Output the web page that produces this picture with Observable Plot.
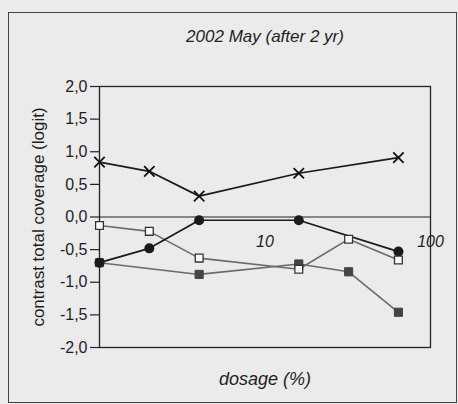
<!DOCTYPE html>
<html>
<head>
<meta charset="utf-8">
<script src="https://cdn.jsdelivr.net/npm/d3@7"></script>
<script src="https://cdn.jsdelivr.net/npm/@observablehq/plot@0.6"></script>
<style>
  html, body { margin: 0; padding: 0; background: #ebebeb; }
  #wrap { position: relative; width: 458px; height: 404px; overflow: hidden; }
  #border { position: absolute; left: 8px; top: 12px; width: 449px; height: 391px;
            border: 1px solid #444; box-sizing: border-box; pointer-events: none; }
</style>
</head>
<body>
<div id="wrap"><div id="border"></div></div>
<script>
const titleText = "2002 May (after 2 yr)";
const yLabel = "contrast total coverage (logit)";
const xLabel = "dosage (%)";

const yTicks = [-2, -1.5, -1, -0.5, 0, 0.5, 1, 1.5, 2];
const xTicks = [10, 100];

// series (dosage %, contrast logit)
const crossX = [1, 2, 4, 16, 64];
const crossY = [0.84, 0.70, 0.32, 0.67, 0.91];
const circleX = [1, 2, 4, 16, 64];
const circleY = [-0.70, -0.48, -0.05, -0.05, -0.53];
const openX = [1, 2, 4, 16, 32, 64];
const openY = [-0.13, -0.22, -0.63, -0.80, -0.34, -0.66];
const filledX = [1, 4, 16, 32, 64];
const filledY = [-0.70, -0.88, -0.72, -0.84, -1.46];

const toRows = (xs, ys) => xs.map((x, i) => ({x, y: ys[i]}));
const cross = toRows(crossX, crossY);
const circle = toRows(circleX, circleY);
const open = toRows(openX, openY);
const filled = toRows(filledX, filledY);
const xTickRows = xTicks.map(v => ({x: v, y: 0}));

const font = "'Liberation Sans', Arial, sans-serif";
const fmt = d => d.toFixed(1).replace(".", ",");

const chart = Plot.plot({
  width: 458,
  height: 404,
  marginLeft: 99,
  marginRight: 28,
  marginTop: 86,
  marginBottom: 57,
  style: {background: "transparent", fontFamily: font, color: "#1e1e1e", overflow: "visible"},
  x: {type: "log", domain: [1, 100], axis: null},
  y: {domain: [-2, 2], axis: null},
  marks: [
    Plot.ruleY([0], {stroke: "#666", strokeWidth: 1.3}),
    Plot.frame({stroke: "#222", strokeWidth: 1.3}),
    Plot.axisY({ticks: yTicks, tickFormat: fmt, tickSize: 9, tickPadding: 3, fontSize: 16, label: null, stroke: "#222", strokeWidth: 1.2}),
    Plot.text(xTickRows, {x: "x", y: "y", text: d => String(d.x), dy: 25, fontSize: 16, fontStyle: "italic", fill: "#1e1e1e"}),
    Plot.line(filled, {x: "x", y: "y", stroke: "#6a6a6a", strokeWidth: 1.6}),
    Plot.line(open, {x: "x", y: "y", stroke: "#6a6a6a", strokeWidth: 1.6}),
    Plot.line(circle, {x: "x", y: "y", stroke: "#1a1a1a", strokeWidth: 1.7}),
    Plot.line(cross, {x: "x", y: "y", stroke: "#1a1a1a", strokeWidth: 1.7}),
    Plot.dot(filled, {x: "x", y: "y", symbol: "square", r: 4.6, fill: "#444", stroke: "#444", strokeWidth: 1}),
    Plot.dot(circle, {x: "x", y: "y", symbol: "circle", r: 4.3, fill: "#1a1a1a", stroke: "#1a1a1a"}),
    Plot.dot(open, {x: "x", y: "y", symbol: "square", r: 4.4, fill: "white", stroke: "#333", strokeWidth: 1.3}),
    Plot.dot(cross, {x: "x", y: "y", symbol: "times", r: 4.8, stroke: "#111", strokeWidth: 1.8}),
    Plot.text([titleText], {frameAnchor: "top", dy: -50, fontSize: 17, fontStyle: "italic", fill: "#1e1e1e", lineAnchor: "middle"}),
    Plot.text([xLabel], {frameAnchor: "bottom", dy: 32, fontSize: 18, fontStyle: "italic", fill: "#1e1e1e", lineAnchor: "middle"}),
    Plot.text([yLabel], {frameAnchor: "left", dx: -61, rotate: -90, fontSize: 17, fill: "#1e1e1e", textAnchor: "middle", lineAnchor: "middle"})
  ]
});
document.getElementById("wrap").prepend(chart);
</script>
</body>
</html>
